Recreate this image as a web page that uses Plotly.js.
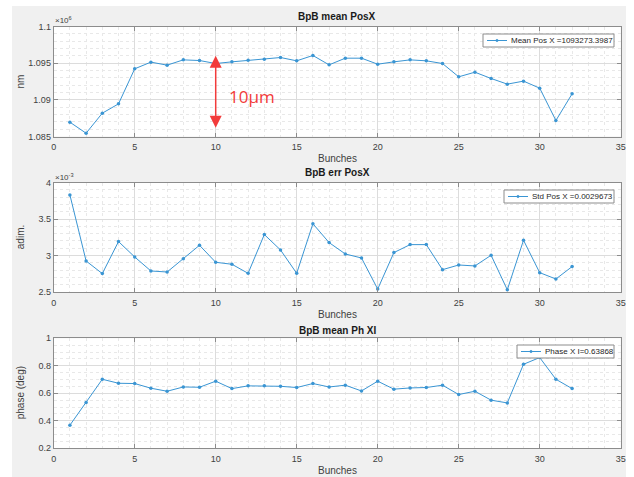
<!DOCTYPE html>
<html>
<head>
<meta charset="utf-8">
<script src="https://cdn.plot.ly/plotly-3.0.1.min.js"></script>
<style>
html,body{margin:0;padding:0;background:#ffffff;width:634px;height:477px;overflow:hidden}
#fig{position:absolute;left:12px;top:6px;width:614px;height:471px}
</style>
</head>
<body>
<div id="fig"></div>
<script>
// ---------------- data ----------------
const bunches = [1,2,3,4,5,6,7,8,9,10,11,12,13,14,15,16,17,18,19,20,21,22,23,24,25,26,27,28,29,30,31,32];
const meanPosX = [1086950,1085450,1088180,1089450,1094230,1095140,1094730,1095450,1095360,1094950,
                  1095180,1095410,1095550,1095770,1095320,1096050,1094770,1095680,1095680,1094860,
                  1095180,1095450,1095320,1094950,1093140,1093770,1092910,1092140,1092550,1091590,
                  1087180,1090820];
const stdPosX = [0.00383,0.002925,0.002752,0.003191,0.00298,0.002788,0.002774,0.002957,0.00314,0.002907,
                 0.00288,0.002756,0.003287,0.003076,0.002756,0.003435,0.003177,0.003021,0.002966,0.00254,
                 0.00304,0.003149,0.003149,0.002806,0.00287,0.002857,0.003003,0.00253,0.003209,0.002765,
                 0.002678,0.002848];
const phaseX = [0.368,0.533,0.702,0.673,0.671,0.637,0.615,0.646,0.644,0.688,
                0.634,0.654,0.654,0.651,0.642,0.671,0.646,0.659,0.617,0.688,
                0.630,0.639,0.642,0.659,0.591,0.615,0.550,0.530,0.811,0.860,
                0.702,0.634];

const xTickVals = [0,5,10,15,20,25,30,35];
const posTickVals = [1085000,1090000,1095000,1100000];
const posTickText = ['1.085','1.09','1.095','1.1'];
const errTickVals = [0.0025,0.003,0.0035,0.004];
const errTickText = ['2.5','3','3.5','4'];
const phTickVals = [0.2,0.4,0.6,0.8,1];
const phTickText = ['0.2','0.4','0.6','0.8','1'];
const legendNames = ['Mean Pos X =1093273.3987','Std Pos X =0.0029673','Phase X I=0.63868'];
const plotTitles = ['BpB mean PosX','BpB err PosX','BpB mean Ph XI'];
const yTitles = ['nm','adim.','phase (deg)'];
const xTitle = 'Bunches';
const spanLabel = '10µm';
const spanEnds = [1086000,1096000];   // 10 µm marker, at bunch 10
const spanBunch = 10;

// ---------------- geometry helpers (page pixels -> paper) ----------------
const OX = 12, OY = 6, W = 614, H = 471;
const px = x => (x - OX) / W;
const py = y => 1 - (y - OY) / H;

const lineColor = '#3a95d3';
const boxColor = '#8c8c8c';
const textColor = '#404040';
const FONT = 'Liberation Sans, Arial, sans-serif';

const xDom = [px(53.7), px(620.7)];
const yDoms = [[py(136.5), py(26.5)], [py(292), py(182.5)], [py(448.3), py(338.3)]];

function xAxis(anchor){
  return {
    domain: xDom, anchor: anchor, range: [0,35],
    tickmode: 'array', tickvals: xTickVals,
    showline: true, mirror: 'ticks', linecolor: boxColor, linewidth: 1,
    ticks: 'inside', ticklen: 4, tickcolor: boxColor, tickwidth: 1,
    showgrid: true, gridcolor: '#dcdcdc', gridwidth: 1, zeroline: false,
    minor: {tickmode: 'linear', tick0: 0, dtick: 1, showgrid: true, gridcolor: '#e8e8e8', griddash: 'dot', gridwidth: 1, ticks: ''},
    tickfont: {family: FONT, size: 9, color: textColor},
    ticklabelstandoff: 2,
    fixedrange: true
  };
}
function yAxis(anchor, dom, range, tv, tt, minorD){
  return {
    domain: dom, anchor: anchor, range: range,
    tickmode: 'array', tickvals: tv, ticktext: tt,
    showline: true, mirror: 'ticks', linecolor: boxColor, linewidth: 1,
    ticks: 'inside', ticklen: 4, tickcolor: boxColor, tickwidth: 1,
    showgrid: true, gridcolor: '#dcdcdc', gridwidth: 1, zeroline: false,
    minor: {tickmode: 'linear', tick0: range[0], dtick: minorD, showgrid: true, gridcolor: '#e8e8e8', griddash: 'dot', gridwidth: 1, ticks: ''},
    tickfont: {family: FONT, size: 9, color: textColor},
    fixedrange: true
  };
}

function trace(y, name, xa, ya){
  return {
    x: bunches, y: y, name: name, type: 'scatter', mode: 'lines+markers',
    xaxis: xa, yaxis: ya, showlegend: false,
    line: {color: lineColor, width: 1},
    marker: {color: lineColor, size: 3.5}
  };
}

const data = [
  trace(meanPosX, legendNames[0], 'x', 'y'),
  trace(stdPosX, legendNames[1], 'x2', 'y2'),
  trace(phaseX, legendNames[2], 'x3', 'y3')
];

const annotations = [];
const shapes = [];
const titleY = [17, 173, 330];
const bunchY = [159, 314, 470];
const yMid = [81.5, 237.2, 393.3];
for (let i = 0; i < 3; i++){
  annotations.push({xref:'paper', yref:'paper', x: px(337.2), y: py(titleY[i]), xanchor:'center', yanchor:'middle',
    text: '<b>' + plotTitles[i] + '</b>', showarrow:false, font:{family:FONT, size:10, color:'#1a1a1a'}});
  annotations.push({xref:'paper', yref:'paper', x: px(337.2), y: py(bunchY[i]), xanchor:'center', yanchor:'middle',
    text: xTitle, showarrow:false, font:{family:FONT, size:10, color:textColor}});
  annotations.push({xref:'paper', yref:'paper', x: px(20), y: py(yMid[i]), xanchor:'center', yanchor:'middle',
    text: yTitles[i], textangle:-90, showarrow:false, font:{family:FONT, size:10, color:textColor}});
}
annotations.push({xref:'paper', yref:'paper', x: px(53), y: py(20.5), xanchor:'left', yanchor:'middle',
  text: '×10<sup>6</sup>', showarrow:false, font:{family:FONT, size:8, color:textColor}});
annotations.push({xref:'paper', yref:'paper', x: px(53), y: py(177), xanchor:'left', yanchor:'middle',
  text: '×10<sup>-3</sup>', showarrow:false, font:{family:FONT, size:8, color:textColor}});

// compact MATLAB-style legend boxes (left, top in page px; right edge 614)
const legLeft = [483, 504, 517];
const legTop = [34, 190, 345];
for (let i = 0; i < 3; i++){
  const L = legLeft[i], T = legTop[i], R = 614, B = T + 13, M = T + 6.5;
  shapes.push({type:'rect', xref:'paper', yref:'paper', layer:'above',
    x0: px(L), x1: px(R), y0: py(B), y1: py(T), fillcolor:'#ffffff', line:{color:boxColor, width:1}});
  shapes.push({type:'line', xref:'paper', yref:'paper', layer:'above',
    x0: px(L + 4), x1: px(L + 24), y0: py(M), y1: py(M), line:{color:lineColor, width:1}});
  shapes.push({type:'circle', xref:'paper', yref:'paper', layer:'above',
    x0: px(L + 12.8), x1: px(L + 15.2), y0: py(M + 1.2), y1: py(M - 1.2), fillcolor:lineColor, line:{color:lineColor, width:0.5}});
  annotations.push({xref:'paper', yref:'paper', x: px(L + 26), y: py(M), xanchor:'left', yanchor:'middle',
    text: legendNames[i], showarrow:false, font:{family:FONT, size:8, color:'#262626'}});
}

// 10 µm span marker
annotations.push({xref:'x', yref:'y', axref:'x', ayref:'y', x: spanBunch, y: spanEnds[1], ax: spanBunch, ay: spanEnds[0],
  text: '', showarrow:true, arrowhead:2, startarrowhead:2, arrowside:'end+start', arrowsize:1.6, startarrowsize:1.6,
  arrowwidth:1.5, arrowcolor:'#f23b3b', standoff:0, startstandoff:0});
annotations.push({xref:'x', yref:'y', x: 12.27, y: 1090520, xanchor:'center', yanchor:'middle',
  text: spanLabel, showarrow:false, font:{family:'Open Sans, Liberation Sans, sans-serif', size:17, color:'#f23b3b'}});

const layout = {
  width: W, height: H,
  margin: {l:0, r:0, t:0, b:0, pad:0},
  paper_bgcolor: '#f0f0f0', plot_bgcolor: '#ffffff',
  showlegend: false,
  font: {family: FONT, size: 9, color: textColor},
  xaxis: xAxis('y'), xaxis2: xAxis('y2'), xaxis3: xAxis('y3'),
  yaxis: yAxis('x', yDoms[0], [1085000,1100000], posTickVals, posTickText, 1000),
  yaxis2: yAxis('x2', yDoms[1], [0.0025,0.004], errTickVals, errTickText, 0.0001),
  yaxis3: yAxis('x3', yDoms[2], [0.2,1], phTickVals, phTickText, 0.05),
  shapes: shapes,
  annotations: annotations
};

Plotly.newPlot('fig', data, layout, {staticPlot: true, displayModeBar: false});
</script>
</body>
</html>
